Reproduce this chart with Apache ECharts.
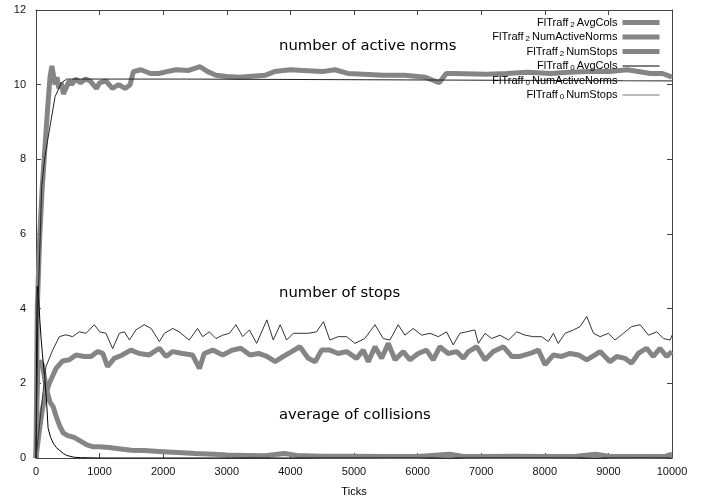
<!DOCTYPE html>
<html>
<head>
<meta charset="utf-8">
<script src="https://cdn.jsdelivr.net/npm/echarts@6/dist/echarts.min.js"></script>
<style>html,body{margin:0;padding:0;background:#fff}#c{width:701px;height:500px}</style>
</head>
<body>
<div id="c"></div>
<script>
// ---- data (Ticks, value) ----
var xTicks = [0,1000,2000,3000,4000,5000,6000,7000,8000,9000,10000];
var yTicks = [0,2,4,6,8,10,12];

var fl2AvgCols = [[0,0],[15,1.5],[30,2.5],[60,2.6],[100,2.5],[140,2.1],[170,1.8],[220,1.5],[270,1.37],[320,1.1],[375,0.85],[430,0.67],[500,0.6],[600,0.55],[700,0.45],[800,0.35],[900,0.3],[1000,0.3],[1150,0.28],[1300,0.25],[1500,0.21],[1700,0.2],[2000,0.17],[2300,0.14],[2500,0.12],[2800,0.1],[3000,0.08],[3300,0.07],[3600,0.06],[3900,0.12],[4100,0.07],[4500,0.05],[5000,0.05],[5500,0.04],[6000,0.04],[6500,0.1],[6700,0.05],[7000,0.04],[7500,0.05],[8000,0.04],[8500,0.05],[8800,0.1],[9000,0.05],[9500,0.04],[9900,0.05],[10000,0.1]];

var fl2NumActiveNorms = [[0,0],[20,4.0],[60,6.0],[100,7.3],[140,8.3],[180,9.3],[220,10.2],[250,10.5],[280,10.45],[300,10.0],[330,10.2],[360,9.9],[400,10.05],[430,9.75],[470,9.9],[520,10.1],[560,10.0],[620,10.15],[700,10.05],[780,10.15],[850,10.1],[950,9.9],[1000,10.05],[1100,10.1],[1200,9.9],[1300,10.0],[1400,9.9],[1480,10.0],[1530,10.35],[1650,10.4],[1800,10.3],[1930,10.3],[2060,10.35],[2200,10.4],[2400,10.38],[2580,10.48],[2700,10.35],[2830,10.25],[3000,10.22],[3200,10.2],[3350,10.22],[3600,10.25],[3750,10.35],[4000,10.4],[4200,10.38],[4500,10.35],[4700,10.4],[4900,10.3],[5150,10.28],[5470,10.25],[5800,10.25],[6120,10.2],[6340,10.05],[6450,10.3],[6570,10.3],[7080,10.28],[7400,10.3],[7730,10.33],[8100,10.3],[8370,10.33],[8700,10.35],[9020,10.35],[9300,10.4],[9660,10.3],[9850,10.3],[10000,10.2]];

var fl2NumStops = [[0,0],[50,0.7],[100,1.3],[150,1.7],[210,2.0],[315,2.4],[420,2.6],[524,2.63],[630,2.76],[760,2.72],[865,2.72],[970,2.85],[1050,2.8],[1125,2.45],[1230,2.67],[1360,2.76],[1490,2.89],[1625,2.8],[1780,2.76],[1940,2.94],[2045,2.72],[2150,2.85],[2305,2.8],[2460,2.76],[2570,2.4],[2645,2.8],[2780,2.89],[2935,2.76],[3090,2.89],[3220,2.94],[3365,2.76],[3500,2.8],[3630,2.72],[3760,2.58],[3890,2.72],[4020,2.85],[4150,2.98],[4280,2.67],[4390,2.58],[4490,2.89],[4620,2.89],[4750,2.8],[4885,2.85],[5040,2.67],[5145,2.89],[5225,2.58],[5330,2.98],[5435,2.67],[5540,3.07],[5645,2.63],[5775,2.85],[5880,2.63],[6010,2.8],[6140,2.89],[6245,2.63],[6350,2.98],[6480,2.8],[6615,2.85],[6720,2.67],[6800,2.85],[6930,2.98],[7060,2.63],[7190,2.85],[7350,2.98],[7480,2.72],[7610,2.72],[7770,2.8],[7900,2.89],[8005,2.5],[8135,2.76],[8265,2.72],[8395,2.8],[8530,2.76],[8660,2.63],[8790,2.76],[8870,2.85],[9025,2.58],[9130,2.72],[9260,2.67],[9365,2.54],[9470,2.8],[9600,2.94],[9705,2.72],[9810,2.94],[9915,2.72],[10000,2.85]];

var fl0AvgCols = [[0,0],[10,3.0],[20,4.6],[40,4.3],[60,3.7],[80,3.2],[100,2.8],[140,2.1],[170,1.4],[190,0.8],[230,0.55],[270,0.4],[320,0.28],[375,0.2],[430,0.12],[480,0.07],[550,0.04],[600,0.02],[700,0.01],[1000,0],[10000,0]];

var fl0NumActiveNorms = [[0,0],[30,4.0],[90,7.27],[140,8.07],[220,8.88],[300,9.68],[400,10.05],[480,10.15],[2370,10.15],[2390,10.1],[10000,10.1]];

var fl0NumStops = [[0,0],[50,0.8],[100,1.6],[157,2.45],[262,2.89],[367,3.25],[470,3.3],[576,3.25],[680,3.38],[786,3.34],[917,3.57],[1000,3.38],[1100,3.34],[1205,2.93],[1310,3.34],[1390,3.38],[1470,3.16],[1570,3.43],[1700,3.57],[1810,3.47],[1940,3.12],[2020,3.34],[2150,3.47],[2250,3.38],[2410,3.16],[2540,3.47],[2620,3.25],[2725,3.38],[2830,3.2],[2935,3.29],[3040,3.34],[3145,3.57],[3250,3.25],[3355,3.43],[3470,3.07],[3630,3.7],[3730,3.16],[3840,3.57],[3940,3.16],[4045,3.34],[4150,3.34],[4280,3.34],[4410,3.38],[4520,3.65],[4620,3.16],[4750,3.25],[4885,3.25],[5015,3.07],[5170,3.2],[5330,3.57],[5460,3.2],[5565,3.16],[5695,3.57],[5800,3.29],[5930,3.47],[6065,3.29],[6195,3.34],[6325,3.25],[6455,3.38],[6560,3.03],[6665,3.34],[6770,3.38],[6900,3.43],[6955,3.07],[7060,3.34],[7165,3.2],[7295,3.29],[7430,3.16],[7560,3.38],[7690,3.29],[7820,3.25],[7950,3.25],[8055,3.12],[8135,3.34],[8210,3.07],[8320,3.34],[8450,3.43],[8555,3.52],[8660,3.79],[8765,3.34],[8870,3.25],[9000,3.34],[9105,3.16],[9235,3.34],[9365,3.52],[9500,3.57],[9630,3.29],[9760,3.38],[9865,3.2],[9970,3.16],[10000,3.29]];

var seriesNames = ['FlTraff2 AvgCols','FlTraff2 NumActiveNorms','FlTraff2 NumStops','FlTraff0 AvgCols','FlTraff0 NumActiveNorms','FlTraff0 NumStops'];
var annotations = ['number of active norms','number of stops','average of collisions'];

// ---- chart ----
var chart = echarts.init(document.getElementById('c'), null, {renderer:'canvas'});
var FONT = 'Liberation Sans';
var thick = {color:'#858585', width:5};
var thinStyles = [{color:'#000', width:1},{color:'#222', width:1},{color:'#333', width:1}];
function mk(name, data, ls, z){
  return {name:name, type:'line', data:data, symbol:'none', showSymbol:false,
    lineStyle:{color:ls.color, width:ls.width}, itemStyle:{color:ls.color},
    animation:false, z:z, xAxisIndex:0, yAxisIndex:0};
}
function legendFmt(n){
  var m = n.match(/^FlTraff(\d) (.*)$/);
  return '{n|FlTraff}{s|' + m[1] + '}{n|' + m[2] + '}';
}
var legendData = seriesNames.map(function(n, i){
  var ls = i < 3 ? thick : thinStyles[i-3];
  return {name:n, lineStyle:{width:ls.width, color:i < 3 ? ls.color : (i === 3 ? '#000' : '#777')}};
});
var axisLineStyle = {color:'#444', width:1};
var annFont = '14.8px "DejaVu Sans"';
chart.setOption({
  backgroundColor:'#fff',
  animation:false,
  grid:{left:36, right:29, top:10, bottom:42, containLabel:false, outerBoundsMode:'none'},
  legend:{
    orient:'vertical', right:34, top:12, align:'right',
    itemWidth:37, itemHeight:8, itemGap:3,
    data:legendData,
    formatter:legendFmt,
    itemStyle:{opacity:0},
    textStyle:{fontFamily:FONT, fontSize:11, color:'#000',
      rich:{n:{fontFamily:FONT, fontSize:11, color:'#000', lineHeight:12},
            s:{fontFamily:FONT, fontSize:8, color:'#000', verticalAlign:'bottom', padding:[0,2,0,2], lineHeight:12}}},
    selectedMode:false
  },
  xAxis:[{
    type:'value', min:0, max:10000, interval:1000,
    name:'Ticks', nameLocation:'middle', nameGap:28,
    nameTextStyle:{fontFamily:FONT, fontSize:11, color:'#000'},
    axisLine:{show:true, lineStyle:axisLineStyle},
    axisTick:{show:true, inside:true, length:5, lineStyle:axisLineStyle},
    axisLabel:{fontFamily:FONT, fontSize:11, color:'#111', margin:8,
      formatter:function(v){return xTicks.indexOf(v)>=0 ? String(v) : '';}},
    splitLine:{show:false}
  },{
    type:'value', position:'top', min:0, max:10000, interval:1000,
    axisLine:{show:true, onZero:false, lineStyle:axisLineStyle},
    axisTick:{show:true, inside:true, length:5, lineStyle:axisLineStyle},
    axisLabel:{show:false}, splitLine:{show:false}
  }],
  yAxis:[{
    type:'value', min:0, max:12, interval:2,
    axisLine:{show:true, onZero:false, lineStyle:axisLineStyle},
    axisTick:{show:true, inside:true, length:5, lineStyle:axisLineStyle},
    axisLabel:{fontFamily:FONT, fontSize:11, color:'#111', margin:10,
      formatter:function(v){return yTicks.indexOf(v)>=0 ? String(v) : '';}},
    splitLine:{show:false}
  },{
    type:'value', position:'right', min:0, max:12, interval:2,
    axisLine:{show:true, onZero:false, lineStyle:axisLineStyle},
    axisTick:{show:true, inside:true, length:5, lineStyle:axisLineStyle},
    axisLabel:{show:false}, splitLine:{show:false}
  }],
  graphic:[
    {type:'text', left:279, top:39, style:{text:annotations[0], font:annFont, fill:'#000'}},
    {type:'text', left:279, top:286, style:{text:annotations[1], font:annFont, fill:'#000'}},
    {type:'text', left:279, top:408, style:{text:annotations[2], font:annFont, fill:'#000'}}
  ],
  series:[
    mk(seriesNames[0], fl2AvgCols, thick, 2),
    mk(seriesNames[1], fl2NumActiveNorms, thick, 2),
    mk(seriesNames[2], fl2NumStops, thick, 2),
    mk(seriesNames[3], fl0AvgCols, thinStyles[0], 3),
    mk(seriesNames[4], fl0NumActiveNorms, thinStyles[1], 3),
    mk(seriesNames[5], fl0NumStops, thinStyles[2], 3)
  ]
});
</script>
</body>
</html>
